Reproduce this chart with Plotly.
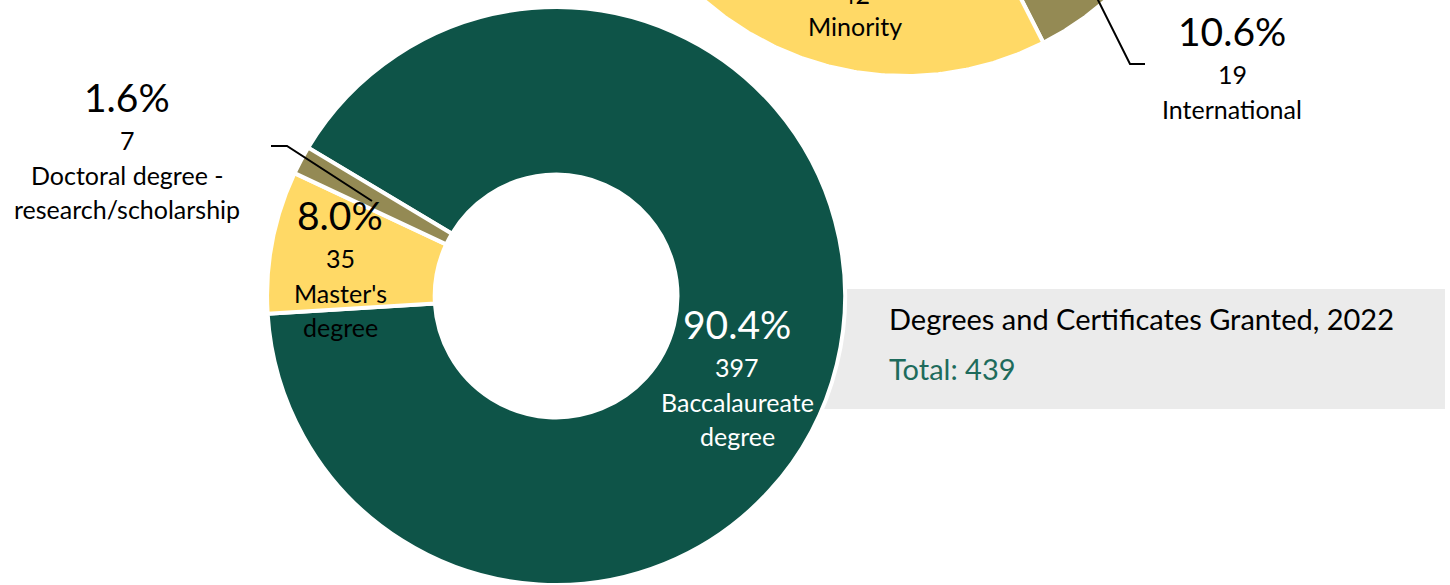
import numpy as np
import plotly.graph_objects as go

# ---------------- data ----------------
# Main donut: degrees and certificates granted, 2022
deg_labels = ["Baccalaureate degree", "Master's degree", "Doctoral degree - research/scholarship"]
deg_lines = [["Baccalaureate", "degree"], ["Master's", "degree"], ["Doctoral degree -", "research/scholarship"]]
deg_counts = [397, 35, 7]

# Upper donut (only its lower edge is visible in the frame)
pop_labels = ["International", "Minority", "White"]
pop_counts = [19, 42, 118]

box_title = "Degrees and Certificates Granted, 2022"

# ---------------- styles ----------------
GREEN = "#0E5448"
GOLD = "#FFD966"
OLIVE = "#948A54"
deg_colors = [GREEN, GOLD, OLIVE]
pop_colors = [OLIVE, GOLD, GREEN]
FONT = "Lato, Carlito, Calibri, sans-serif"
BIG = 39
SMALL = 25
BOX = 29

W, H = 1450, 585
fig = go.Figure()

# grey caption panel (behind the donut)
fig.add_shape(type="rect", xref="x", yref="y", x0=790, x1=1445, y0=289, y1=409,
              fillcolor="#EBEBEB", line=dict(width=0), layer="below")

# ---------------- upper donut (drawn in pixel-like data space, clipped by frame) ----------------
TOP_CX, TOP_CY, TOP_R, TOP_HOLE, TOP_START = 905, -229, 305, 0.42, 114.8
pop_total = sum(pop_counts)
ang = TOP_START
for lab, val, col in zip(pop_labels, pop_counts, pop_colors):
    span = 360.0 * val / pop_total
    th = np.radians(np.linspace(ang, ang + span, 160))
    xo = TOP_CX + TOP_R * np.sin(th)
    yo = TOP_CY - TOP_R * np.cos(th)
    xi = TOP_CX + TOP_R * TOP_HOLE * np.sin(th[::-1])
    yi = TOP_CY - TOP_R * TOP_HOLE * np.cos(th[::-1])
    fig.add_trace(go.Scatter(
        x=np.concatenate([xo, xi, xo[:1]]), y=np.concatenate([yo, yi, yo[:1]]),
        mode="lines", fill="toself", fillcolor=col,
        line=dict(color="white", width=4), hoverinfo="text",
        text=f"{lab}: {val} ({100 * val / pop_total:.1f}%)", showlegend=False))
    ang += span

# ---------------- main donut ----------------
fig.add_trace(go.Pie(
    labels=deg_labels, values=deg_counts, hole=0.42, sort=False,
    direction="clockwise", rotation=300.9,
    marker=dict(colors=deg_colors, line=dict(color="white", width=4)),
    textinfo="none", hoverinfo="label+value+percent", showlegend=False,
    domain=dict(x=[0.1, 0.667], y=[0.0, 0.988])))

# ---------------- labels ----------------
deg_total = sum(deg_counts)
deg_pos = [(737, 324, "white"), (340, 215, "black"), (127, 97, "black")]
anns = []


def add_label(x, y, pct, count, lines, color):
    anns.append(dict(x=x, y=y, text=pct, font=dict(size=BIG, color=color, family=FONT)))
    anns.append(dict(x=x, y=y + 43, text=str(count), font=dict(size=SMALL, color=color, family=FONT)))
    for k, ln in enumerate(lines):
        anns.append(dict(x=x, y=y + 78 + 34 * k, text=ln, font=dict(size=SMALL, color=color, family=FONT)))


for (x, y, c), cnt, lines in zip(deg_pos, deg_counts, deg_lines):
    add_label(x, y, f"{100 * cnt / deg_total:.1f}%", cnt, lines, c)

# upper donut labels
i_int = pop_labels.index("International")
add_label(1232, 31, f"{100 * pop_counts[i_int] / pop_total:.1f}%", pop_counts[i_int], [pop_labels[i_int]], "black")
i_min = pop_labels.index("Minority")
# count sits just above the frame edge: use paper coordinates so it is not culled
anns.append(dict(x=855, y=1 + 6 / H, yref="paper", text=str(pop_counts[i_min]),
                 font=dict(size=SMALL, color="black", family=FONT)))
anns.append(dict(x=855, y=26, text=pop_labels[i_min], font=dict(size=SMALL, color="black", family=FONT)))

# caption
anns.append(dict(x=887, y=318, text=box_title, xanchor="left",
                 font=dict(size=BOX, color="black", family=FONT)))
anns.append(dict(x=887, y=368, text=f"Total: {deg_total}", xanchor="left",
                 font=dict(size=BOX, color="#1E6B5C", family=FONT)))

for a in anns:
    a.setdefault("xref", "x")
    a.setdefault("yref", "y")
    a.setdefault("showarrow", False)
    a.setdefault("xanchor", "center")
    a.setdefault("yanchor", "middle")

# leader lines
fig.add_shape(type="path", xref="x", yref="y", path="M 271 146 L 287 146 L 372 201",
              line=dict(color="black", width=2))
fig.add_shape(type="path", xref="x", yref="y", path="M 1095 -6 L 1130 64 L 1145 64",
              line=dict(color="black", width=2))

fig.update_layout(
    width=W, height=H, margin=dict(l=0, r=0, t=0, b=0),
    paper_bgcolor="white", plot_bgcolor="white",
    xaxis=dict(range=[0, W], visible=False, fixedrange=True),
    yaxis=dict(range=[H, 0], visible=False, fixedrange=True),
    annotations=anns, showlegend=False,
)

# remove the browser's default 8px body margin so the figure sits at the window origin
fig.write_html("out.html", config={"displayModeBar": False},
               post_script="document.body.style.margin='0px';document.body.style.overflow='hidden';")
